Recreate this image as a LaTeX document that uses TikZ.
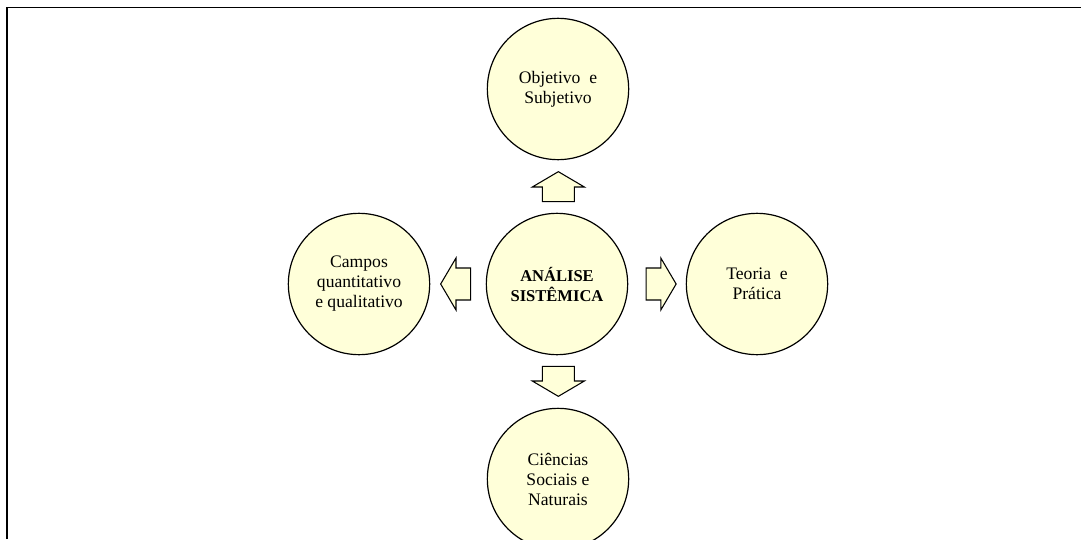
\documentclass[tikz,border=0pt]{standalone}
\usepackage{fontspec}
\setmainfont{Liberation Serif}
\usepackage{xcolor}
\usepackage{tikz}
\usetikzlibrary{shapes.arrows, positioning}

\definecolor{circfill}{RGB}{255,255,217}

\begin{document}
\begin{tikzpicture}[x=0.75pt, y=-0.75pt,
		bubble/.style={circle, draw, line width=0.9pt, fill=circfill, minimum size=106pt,
			inner sep=0pt, align=center, font=\fontsize{13.2}{15}\selectfont},
		blockarrow/.style={single arrow, draw, line width=0.8pt, fill=circfill, anchor=tail,
			inner xsep=0pt, inner ysep=11.6pt, minimum height=22.5pt,
			single arrow head extend=7.5pt, single arrow tip angle=119},
		blockarrowv/.style={blockarrow, inner xsep=11.6pt, inner ysep=0pt}]
	\useasboundingbox (0,0) rectangle (1081,539);
	% moldura
	\draw[line width=1.1pt] (7,539) -- (7,7.5) -- (1081,7.5);
	% circulos
	\node[bubble, font=\fontsize{12.4}{15}\selectfont\bfseries] (centro) at (557,284) {ANÁLISE\\SISTÊMICA};
	\node[bubble] (objetivo) at (558,89) {Objetivo\ \ e\\Subjetivo};
	\node[bubble] (ciencias) at (558,479) {Ciências\\Sociais e\\Naturais};
	\node[bubble] (campos) at (359,284) {Campos\\quantitativo\\e qualitativo};
	\node[bubble] (teoria) at (757,284) {Teoria\ \ e\\Prática};
	% setas
	\node[blockarrowv, shape border rotate=90] (setaCima) at ([xshift=1pt, yshift=7.9pt]centro.north) {};
	\node[blockarrowv, shape border rotate=270] (setaBaixo) at ([xshift=1pt, yshift=-7.9pt]centro.south) {};
	\node[blockarrow, shape border rotate=180] (setaEsq) at ([xshift=-10.9pt]centro.west) {};
	\node[blockarrow] (setaDir) at ([xshift=13pt]centro.east) {};
\end{tikzpicture}
\end{document}
